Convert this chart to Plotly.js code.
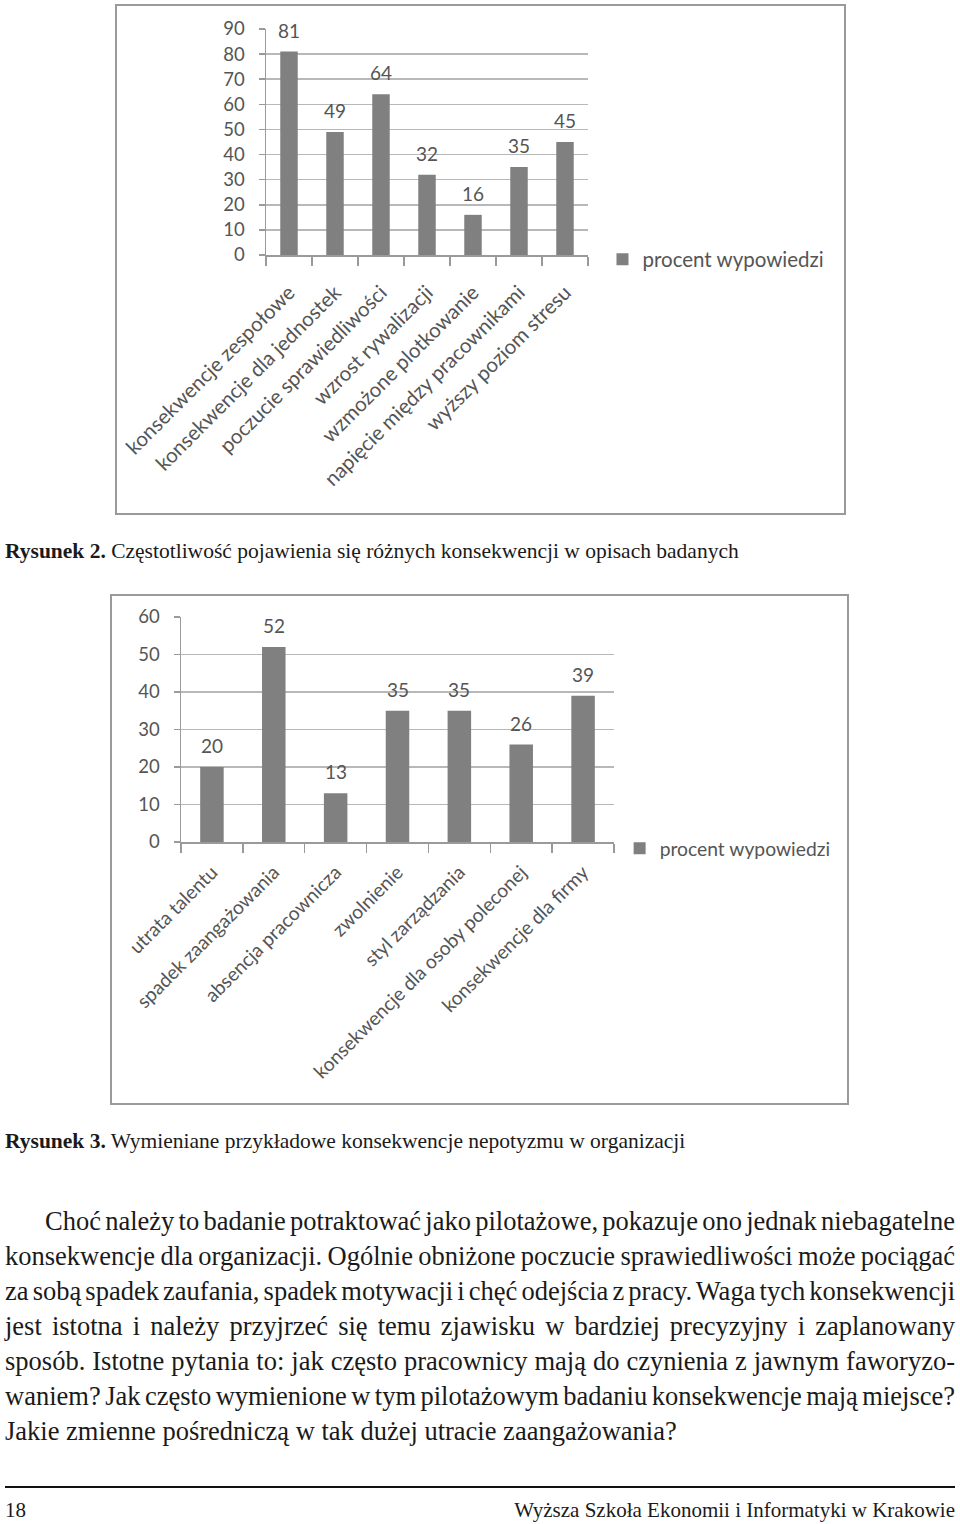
<!DOCTYPE html>
<html><head><meta charset="utf-8">
<script src="https://cdn.plot.ly/plotly-3.0.1.min.js"></script>
<style>
body{margin:0;background:#fff;width:960px;height:1524px;position:relative;overflow:hidden;font-family:"Liberation Serif","Times New Roman",serif;color:#1a1a1a;}
.frame{position:absolute;border:2px solid #9a9a9a;box-sizing:border-box;background:#fff;}
.plot{position:absolute;}
.cap{position:absolute;left:5px;font-size:21.5px;white-space:nowrap;line-height:30px;}
.cap b{font-weight:bold;}
.ln{position:absolute;left:5px;width:950px;font-size:26.5px;line-height:35px;white-space:nowrap;word-spacing:-3.8px;text-align:justify;text-align-last:justify;}
.last{text-align:left;text-align-last:left;word-spacing:0;}
#rule{position:absolute;left:5px;top:1486px;width:950px;height:2px;background:#111;}
.foot{position:absolute;top:1494px;font-size:21px;line-height:32px;white-space:nowrap;}
</style></head>
<body>
<div class="frame" style="left:115px;top:4px;width:731px;height:511px;"></div>
<div id="c1" class="plot" style="left:115px;top:4px;width:731px;height:510px;"></div>
<div class="cap" style="top:536px;"><b>Rysunek 2.</b> Częstotliwość pojawienia się różnych konsekwencji w opisach badanych</div>

<div class="frame" style="left:110px;top:594px;width:739px;height:511px;"></div>
<div id="c2" class="plot" style="left:110px;top:594px;width:739px;height:510px;"></div>
<div class="cap" style="top:1126px;"><b>Rysunek 3.</b> Wymieniane przykładowe konsekwencje nepotyzmu w organizacji</div>

<div class="ln" style="top:1204px;padding-left:40px;width:910px;">Choć należy to badanie potraktować jako pilotażowe, pokazuje ono jednak niebagatelne</div>
<div class="ln" style="top:1239px;">konsekwencje dla organizacji. Ogólnie obniżone poczucie sprawiedliwości może pociągać</div>
<div class="ln" style="top:1274px;">za sobą spadek zaufania, spadek motywacji i chęć odejścia z pracy. Waga tych konsekwencji</div>
<div class="ln" style="top:1309px;">jest istotna i należy przyjrzeć się temu zjawisku w bardziej precyzyjny i zaplanowany</div>
<div class="ln" style="top:1344px;">sposób. Istotne pytania to: jak często pracownicy mają do czynienia z jawnym faworyzo-</div>
<div class="ln" style="top:1379px;">waniem? Jak często wymienione w tym pilotażowym badaniu konsekwencje mają miejsce?</div>
<div class="ln last" style="top:1414px;">Jakie zmienne pośredniczą w tak dużej utracie zaangażowania?</div>

<div id="rule"></div>
<div class="foot" style="left:5px;">18</div>
<div class="foot" style="right:5px;">Wyższa Szkoła Ekonomii i Informatyki w Krakowie</div>

<script>
const seriesName = "procent wypowiedzi";

const categories1 = ["konsekwencje zespołowe", "konsekwencje dla jednostek", "poczucie sprawiedliwości",
  "wzrost rywalizacji", "wzmożone plotkowanie", "napięcie między pracownikami", "wyższy poziom stresu"];
const values1 = [81, 49, 64, 32, 16, 35, 45];
const yTicks1 = [0, 10, 20, 30, 40, 50, 60, 70, 80, 90];

const categories2 = ["utrata talentu", "spadek zaangażowania", "absencja pracownicza", "zwolnienie",
  "styl zarządzania", "konsekwencje dla osoby poleconej", "konsekwencje dla firmy"];
const values2 = [20, 52, 13, 35, 35, 26, 39];
const yTicks2 = [0, 10, 20, 30, 40, 50, 60];

const FONT = "Lato, 'Open Sans', sans-serif";
const TXT = "#555555";
const AX = "#9a9a9a";

function makeChart(id, cats, vals, ticks, o) {
  const trace = {
    type: "bar", x: cats, y: vals, name: seriesName,
    marker: {color: "#808080"}, width: 0.38, showlegend: true, hoverinfo: "none"
  };
  const annotations = cats.map((c, i) => ({
    x: c, y: vals[i], text: String(vals[i]), xref: "x", yref: "y",
    showarrow: false, yanchor: "bottom", yshift: o.labelShift,
    font: {family: FONT, size: 19, color: TXT}
  }));
  const layout = {
    width: +document.getElementById(id).style.width.replace("px",""),
    height: 510,
    margin: o.margin,
    paper_bgcolor: "rgba(0,0,0,0)", plot_bgcolor: "rgba(0,0,0,0)",
    font: {family: FONT, size: 19, color: TXT},
    showlegend: true,
    legend: {x: o.legend[0], y: o.legend[1], xanchor: "left", yanchor: "middle",
      font: {family: FONT, size: o.catSize, color: TXT}, bgcolor: "rgba(0,0,0,0)"},
    xaxis: {type: "category", tickangle: -45, showline: true, linecolor: AX, linewidth: 1.5,
      ticks: "outside", tickson: "boundaries", ticklen: 9, tickcolor: AX, tickwidth: 1.5,
      ticklabelstandoff: o.xStand,
      showgrid: false, tickfont: {family: FONT, size: o.catSize, color: TXT}, automargin: false},
    yaxis: {range: [0, ticks[ticks.length-1]], tickvals: ticks, ticktext: ticks.map(String),
      showline: true, linecolor: AX, linewidth: 1.5, ticks: "outside", ticklen: 6, tickcolor: AX,
      tickwidth: 1.5, showgrid: true, gridcolor: "#b8b8b8", gridwidth: 1.5, zeroline: false,
      ticklabelstandoff: 10,
      tickfont: {family: FONT, size: 18.5, color: TXT}, automargin: false},
    annotations: annotations
  };
  Plotly.newPlot(id, [trace], layout, {displayModeBar: false, staticPlot: true});
}

makeChart("c1", categories1, values1, yTicks1,
  {margin: {l: 151, r: 258, t: 25, b: 259}, legend: [1.045, -0.02], labelShift: 8, catSize: 20.5, xStand: 16});
makeChart("c2", categories2, values2, yTicks2,
  {margin: {l: 71, r: 235, t: 23, b: 262}, legend: [1.013, -0.03], labelShift: 8, catSize: 19.3, xStand: 10});
</script>
</body></html>
